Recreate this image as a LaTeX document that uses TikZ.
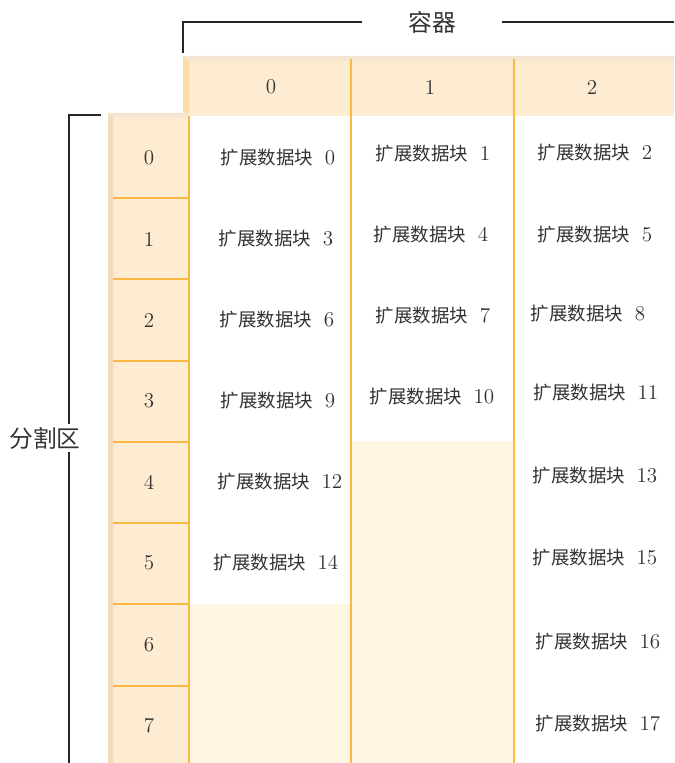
\documentclass[tikz,border=0pt]{standalone}
\usepackage{fontspec}
\newfontfamily\cjk{Noto Sans CJK SC}
\usetikzlibrary{positioning}
\definecolor{hdrfill}{HTML}{FEECD2}
\definecolor{bevtop}{HTML}{F4E6D3}
\definecolor{bevleft}{HTML}{F3DCB9}
\definecolor{bevhead}{HTML}{FCDDA6}
\definecolor{gridorange}{HTML}{FBB843}
\definecolor{emptyfill}{HTML}{FEF5E3}
\definecolor{inkgray}{HTML}{333333}

\begin{document}
\begin{tikzpicture}[x=0.02cm,y=-0.02cm,
  idx_node/.style={text=inkgray,font=\fontsize{12}{14}\selectfont},
  blk_node/.style={text=inkgray,font=\fontsize{12}{14}\selectfont},
  title_node/.style={text=inkgray,inner sep=0pt,font=\cjk\fontsize{13.5}{15}\selectfont},
  grid_line/.style={gridorange,line width=1.1pt},
  bracket/.style={black!85,line width=1.1pt}]
\useasboundingbox (0,0) rectangle (674,763);
% header band (containers)
\fill[hdrfill] (183,56) rectangle (674,116);
\fill[bevtop] (183,56) -- (674,56) -- (674,61) -- (189,61) -- cycle;
\fill[bevhead] (183,56) -- (189,62) -- (189,116) -- (183,116) -- cycle;
% side band (partitions)
\fill[hdrfill] (108,113) rectangle (189,763);
\fill[bevtop] (108,113) -- (189,113) -- (189,117) -- (113,117) -- cycle;
\fill[bevleft] (108,113) -- (113,118) -- (113,763) -- (108,763) -- cycle;
% unused cells
\fill[emptyfill] (189,604) rectangle (351,763);
\fill[emptyfill] (351,441) rectangle (514,763);
% grid
\draw[grid_line] (189,116) -- (189,763);
\draw[grid_line] (351,59) -- (351,763);
\draw[grid_line] (514,59) -- (514,763);
\foreach \y in {198,279,361,442,523,604,686}
  \draw[grid_line] (113,\y) -- (189,\y);
% container numbers
\node[idx_node] (c0) at (271,87) {0};
\node[idx_node] (c1) at (430,87) {1};
\node[idx_node] (c2) at (592,87) {2};
% partition numbers
\foreach \r/\y in {0/158,1/239,2/320,3/401,4/482,5/563,6/645,7/726}
  \node[idx_node] (p\r) at (149,\y) {\r};
% extents
\foreach \n/\x/\y in {0/278/158,3/276/239,6/277/320,9/278/401,12/280/482,14/276/563,
    1/433/154,4/431/235,7/433/316,10/432/397,
    2/595/153,5/595/235,8/588/314,11/596/393,13/595/476,15/595/558,16/598/642,17/598/724}
  \node[blk_node] (e\n) at (\x,\y) {{\cjk\fontsize{10.5}{12}\selectfont 扩展数据块}\hspace{0.55em}\n};
% brackets
\node[title_node,minimum width=2.8cm] (cont) at (432,22) {容器};
\coordinate (cont_tick) at (183,53);
\draw[bracket] (cont_tick) |- (cont.west);
\draw[bracket] (cont.east) -- (674,22);
\node[title_node,minimum height=0.56cm] (part) at (45,438) {分割区};
\coordinate (part_tick) at (101,115);
\coordinate (part_end) at (69,763);
\draw[bracket] (part_tick) -| (part_end |- part.north);
\draw[bracket] (part_end |- part.south) -- (part_end);
\end{tikzpicture}
\end{document}
